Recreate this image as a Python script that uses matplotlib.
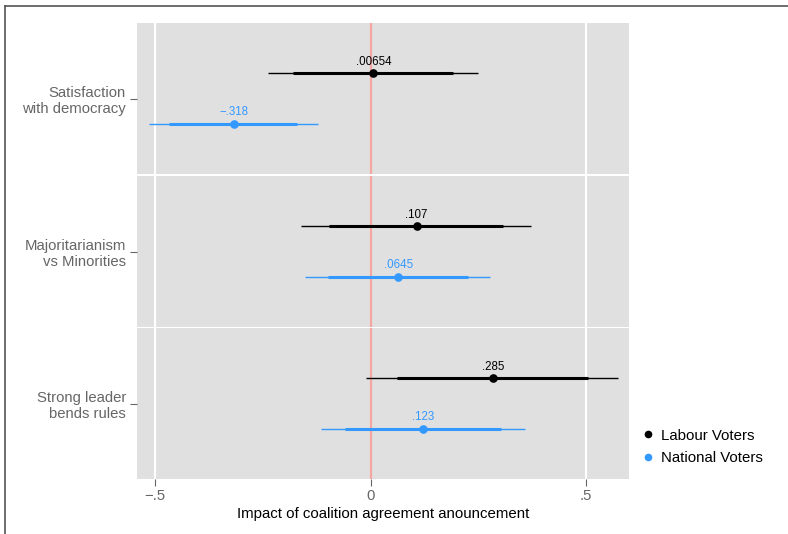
import matplotlib
matplotlib.use("Agg")
import matplotlib.pyplot as plt
from matplotlib.lines import Line2D

plt.rcParams['font.family'] = ['Liberation Sans', 'DejaVu Sans']

# outcomes, top to bottom
outcomes = ["Satisfaction\nwith democracy", "Majoritarianism\nvs Minorities", "Strong leader\nbends rules"]

# point estimates
labour_est = [0.00654, 0.107, 0.285]
national_est = [-0.318, 0.0645, 0.123]
labour_txt = [".00654", ".107", ".285"]
national_txt = ["\u2212.318", ".0645", ".123"]

# 95% intervals (thin) and 90% intervals (thick)
labour_lo95 = [-0.238, -0.161, -0.010]
labour_hi95 = [0.249, 0.372, 0.574]
labour_lo90 = [-0.180, -0.096, 0.062]
labour_hi90 = [0.191, 0.307, 0.504]
national_lo95 = [-0.514, -0.151, -0.116]
national_hi95 = [-0.123, 0.277, 0.359]
national_lo90 = [-0.467, -0.099, -0.059]
national_hi90 = [-0.171, 0.226, 0.302]

xticks = [-0.5, 0, 0.5]
xticklabels = ["\u2212.5", "0", ".5"]

BLACK = "#000000"
BLUE = "#3399ff"
GREY_BG = "#e0e0e0"
AX_TXT = "#666666"

W, H = 788, 534
fig = plt.figure(figsize=(W / 100, H / 100), dpi=100)

left, right = 137, 629
tops = [23, 176, 328]
ph = 151

series = [
    (labour_est, labour_lo95, labour_hi95, labour_lo90, labour_hi90, labour_txt, BLACK, 2),
    (national_est, national_lo95, national_hi95, national_lo90, national_hi90, national_txt, BLUE, 1),
]

axes = []
for i, name in enumerate(outcomes):
    ax = fig.add_axes([left / W, 1 - (tops[i] + ph) / H, (right - left) / W, ph / H])
    ax.set_facecolor(GREY_BG)
    for s in ax.spines.values():
        s.set_visible(False)
    ax.set_xlim(-0.542, 0.600)
    ax.set_ylim(0, 3)
    for g in xticks:
        ax.axvline(g, color="white", lw=1.5, zorder=1)
    ax.axvline(0, color="#f4a6a0", lw=1.6, zorder=2)
    for est, lo95, hi95, lo90, hi90, txt, col, y in series:
        ax.plot([lo95[i], hi95[i]], [y, y], color=col, lw=1.0, zorder=3, solid_capstyle="butt")
        ax.plot([lo90[i], hi90[i]], [y, y], color=col, lw=2.2, zorder=4, solid_capstyle="butt")
        ax.plot(est[i], y, "o", color=col, ms=5.2, zorder=5)
        ax.annotate(txt[i], (est[i], y), xytext=(0, 8.4), textcoords="offset points",
                    ha="center", va="center", fontsize=8.3, color=col)
    ax.set_yticks([1.5])
    ax.set_yticklabels([name], fontsize=10.7, color=AX_TXT, linespacing=1.15)
    ax.tick_params(axis="y", length=5, color=AX_TXT, pad=3)
    ax.set_xticks(xticks)
    if i < 2:
        ax.tick_params(axis="x", length=0, labelbottom=False)
    else:
        ax.set_xticklabels(xticklabels, fontsize=10.7, color=AX_TXT)
        ax.tick_params(axis="x", length=5, color=AX_TXT, pad=2)
        ax.set_xlabel("Impact of coalition agreement anouncement", fontsize=10.8, color="black", labelpad=3)
    axes.append(ax)

handles = [
    Line2D([], [], ls="", marker="o", ms=4.5, color=BLACK, label="Labour Voters"),
    Line2D([], [], ls="", marker="o", ms=4.5, color=BLUE, label="National Voters"),
]
fig.legend(handles=handles, loc="center left", bbox_to_anchor=(628 / W, 1 - 447 / H),
           frameon=False, fontsize=10.8, handlelength=0.8, handletextpad=0.5, labelspacing=0.6)

# outer frame lines (top and left)
fig.add_artist(Line2D([4.5 / W, 1], [1 - 5.5 / H, 1 - 5.5 / H], color="#555555", lw=1.2))
fig.add_artist(Line2D([4.5 / W, 4.5 / W], [0, 1 - 5.5 / H], color="#555555", lw=1.2))

fig.savefig("out.png", dpi=100)
